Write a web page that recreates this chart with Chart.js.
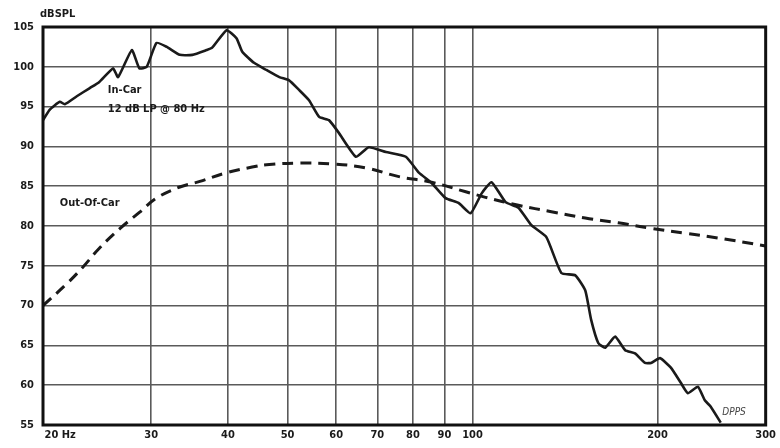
<!DOCTYPE html>
<html lang="en">
<head>
  <meta charset="UTF-8">
  <title>In-Car vs Out-Of-Car Response</title>
  <script src="https://cdn.jsdelivr.net/npm/chart.js"></script>
  <style>
    * { box-sizing: border-box; margin: 0; padding: 0; }
    body { background: #FFFFFF; width: 780px; height: 448px; overflow: hidden; }
    canvas { display: block; }
  </style>
</head>
<body>
  <canvas id="spl" width="780" height="448"></canvas>

  <script>
    // Frequency ticks (Hz) and level ticks (dB)
    const freqTicks = [20, 30, 40, 50, 60, 70, 80, 90, 100, 200, 300];
    const dbTicks   = [55, 60, 65, 70, 75, 80, 85, 90, 95, 100, 105];

    // In-car response, 12 dB LP @ 80 Hz
    const inCarFreq = [20.0, 20.5, 21.3, 21.7, 22.7, 23.8, 24.7, 26.0, 26.5, 27.9,
                       28.7, 29.5, 30.6, 31.8, 33.4, 35.0, 36.9, 37.7, 39.8, 41.3,
                       42.2, 44.1, 46.2, 48.5, 50.3, 52.2, 54.2, 56.3, 58.4, 60.6,
                       64.6, 67.8, 72.3, 77.9, 81.8, 85.8, 90.4, 94.9, 99.3, 103.5,
                       107.4, 113.2, 118.8, 124.7, 131.9, 139.5, 147.0, 152.6, 156.0, 160.2,
                       164.4, 170.7, 177.2, 183.9, 190.9, 195.2, 201.9, 210.3, 218.3, 224.1,
                       232.7, 238.8, 244.2, 253.5];
    const inCarDb   = [93.3, 94.6, 95.6, 95.3, 96.3, 97.3, 98.1, 99.8, 98.7, 102.1,
                       99.8, 100.0, 103.0, 102.5, 101.5, 101.5, 102.1, 102.4, 104.6, 103.6,
                       101.9, 100.5, 99.6, 98.7, 98.3, 97.1, 95.8, 93.7, 93.3, 91.7,
                       88.7, 89.9, 89.3, 88.7, 86.7, 85.4, 83.5, 82.9, 81.6, 84.1,
                       85.5, 83.0, 82.3, 80.1, 78.6, 74.1, 73.8, 71.9, 68.2, 65.3,
                       64.7, 66.1, 64.4, 64.0, 62.8, 62.8, 63.4, 62.2, 60.3, 59.0,
                       59.8, 58.1, 57.3, 55.3];

    // Out-of-car response
    const outCarFreq = [20.0, 21.9, 23.2, 24.7, 26.7, 28.7, 30.6, 33.4, 36.0, 39.8,
                        43.8, 46.2, 52.2, 59.1, 67.1, 75.9, 85.8, 97.5, 105.0, 118.8,
                        134.4, 152.6, 172.6, 195.2, 221.7, 250.7, 300.0];
    const outCarDb   = [70.0, 72.8, 74.8, 77.2, 79.7, 81.7, 83.5, 84.9, 85.6, 86.7,
                        87.4, 87.7, 87.9, 87.8, 87.3, 86.2, 85.5, 84.3, 83.6, 82.6,
                        81.8, 81.0, 80.4, 79.7, 79.1, 78.5, 77.5];

    const ink = '#1a1a1a';
    const gridColor = '#5a5a5a';
    const narrow = "'DejaVu Sans Condensed', 'Liberation Sans Narrow', 'Roboto Condensed', Arial, sans-serif";
    const tickFont = { family: narrow, size: 11, weight: 'bold' };

    const toPoints = (xs, ys) => xs.map((x, i) => ({ x, y: ys[i] }));

    // frame + in-plot labels
    const decorations = {
      id: 'decorations',
      afterDatasetsDraw(chart) {
        const { ctx, chartArea: a, scales: { x, y } } = chart;
        ctx.save();
        ctx.strokeStyle = '#111';
        ctx.lineWidth = 3;
        ctx.strokeRect(a.left, a.top, a.right - a.left, a.bottom - a.top);

        ctx.fillStyle = ink;
        ctx.textBaseline = 'middle';
        ctx.textAlign = 'left';
        ctx.font = 'bold 11px ' + narrow;
        ctx.fillText('dBSPL', 40, 14);
        ctx.fillText('In-Car', x.getPixelForValue(25.5), y.getPixelForValue(97.1));
        ctx.fillText('12 dB LP @ 80 Hz', x.getPixelForValue(25.5), y.getPixelForValue(94.7));
        ctx.fillText('Out-Of-Car', x.getPixelForValue(21.3), y.getPixelForValue(82.9));
        ctx.font = 'italic 10px ' + narrow;
        ctx.fillStyle = '#444';
        ctx.fillText('DPPS', x.getPixelForValue(255), y.getPixelForValue(56.6));
        ctx.restore();
      }
    };

    new Chart(document.getElementById('spl'), {
      type: 'line',
      plugins: [decorations],
      data: {
        datasets: [
          {
            label: 'In-Car',
            data: toPoints(inCarFreq, inCarDb),
            borderColor: ink,
            borderWidth: 2.6,
            pointRadius: 0,
            tension: 0.15,
            fill: false
          },
          {
            label: 'Out-Of-Car',
            data: toPoints(outCarFreq, outCarDb),
            borderColor: ink,
            borderWidth: 3,
            borderDash: [11, 7],
            pointRadius: 0,
            tension: 0.4,
            fill: false
          }
        ]
      },
      options: {
        responsive: false,
        animation: false,
        layout: { padding: { top: 27, right: 8, left: 0, bottom: 0 } },
        plugins: {
          legend: { display: false },
          tooltip: { enabled: false }
        },
        scales: {
          x: {
            type: 'logarithmic',
            min: 20,
            max: 300,
            afterBuildTicks: s => { s.ticks = freqTicks.map(v => ({ value: v })); },
            afterFit: s => { s.height = 23; },
            grid: { color: gridColor, lineWidth: 1.6, drawTicks: false },
            border: { display: false },
            ticks: {
              autoSkip: false,
              maxRotation: 0,
              padding: 4,
              color: ink,
              font: tickFont,
              callback: v => (v === 20 ? '          20 Hz' : String(v))
            }
          },
          y: {
            min: 55,
            max: 105,
            afterBuildTicks: s => { s.ticks = dbTicks.map(v => ({ value: v })); },
            afterFit: s => { s.width = 43; },
            grid: { color: gridColor, lineWidth: 1.6, drawTicks: false },
            border: { display: false },
            ticks: {
              autoSkip: false,
              padding: 9,
              color: ink,
              font: tickFont
            }
          }
        }
      }
    });
  </script>
</body>
</html>
